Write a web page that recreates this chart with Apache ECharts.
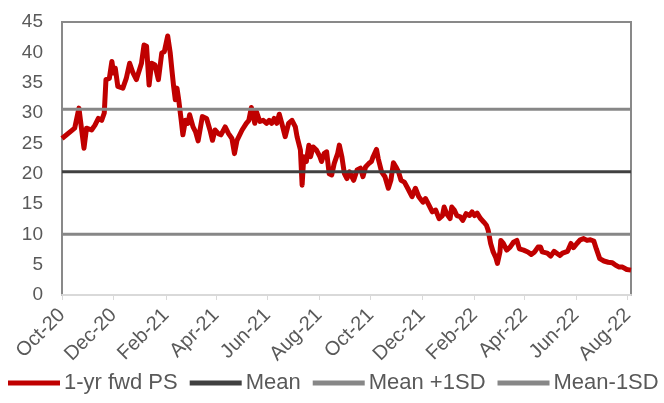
<!DOCTYPE html>
<html>
<head>
	<title>1-yr fwd PS</title>
	<meta charset="utf-8">
	<style type="text/css">
		body {
			margin: 0;
			padding: 0;
			background-color: #fff;
		}
		#main {
			width: 664px;
			height: 403px;
		}
	</style>
	<script src="https://cdn.jsdelivr.net/npm/echarts@6/dist/echarts.min.js"></script>
</head>
<body>
	<div id="main"></div>

	<script type="text/javascript">

	// 1-yr fwd PS
	var psDates = [
		'2020-10-01','2020-10-16','2020-10-21','2020-10-27','2020-10-30','2020-11-05','2020-11-09','2020-11-13','2020-11-17','2020-11-20',
		'2020-11-22','2020-11-26','2020-11-29','2020-12-01','2020-12-03','2020-12-06','2020-12-12','2020-12-16','2020-12-20','2020-12-24',
		'2020-12-28','2021-01-03','2021-01-06','2021-01-09','2021-01-12','2021-01-15','2021-01-19','2021-01-23','2021-01-27','2021-01-30',
		'2021-02-03','2021-02-06','2021-02-08','2021-02-10','2021-02-12','2021-02-14','2021-02-16','2021-02-19','2021-02-21','2021-02-24',
		'2021-02-27','2021-03-01','2021-03-05','2021-03-08','2021-03-11','2021-03-16','2021-03-21','2021-03-25','2021-03-28','2021-03-31',
		'2021-04-04','2021-04-07','2021-04-12','2021-04-16','2021-04-20','2021-04-23','2021-04-26','2021-05-02','2021-05-07','2021-05-10',
		'2021-05-13','2021-05-17','2021-05-19','2021-05-23','2021-05-27','2021-05-31','2021-06-03','2021-06-06','2021-06-09','2021-06-12',
		'2021-06-15','2021-06-18','2021-06-22','2021-06-26','2021-06-30','2021-07-04','2021-07-06','2021-07-10','2021-07-12','2021-07-14',
		'2021-07-17','2021-07-20','2021-07-22','2021-07-25','2021-07-29','2021-08-02','2021-08-04','2021-08-07','2021-08-10','2021-08-13',
		'2021-08-16','2021-08-19','2021-08-23','2021-08-25','2021-08-28','2021-08-31','2021-09-03','2021-09-06','2021-09-11','2021-09-15',
		'2021-09-19','2021-09-22','2021-09-25','2021-09-29','2021-10-02','2021-10-04','2021-10-08','2021-10-10','2021-10-14','2021-10-18',
		'2021-10-22','2021-10-25','2021-10-28','2021-10-31','2021-11-03','2021-11-06','2021-11-10','2021-11-15','2021-11-19','2021-11-23',
		'2021-11-27','2021-12-02','2021-12-05','2021-12-09','2021-12-13','2021-12-17','2021-12-21','2021-12-25','2021-12-27','2021-12-30',
		'2022-01-03','2022-01-05','2022-01-08','2022-01-11','2022-01-15','2022-01-18','2022-01-22','2022-01-26','2022-01-29','2022-02-01',
		'2022-02-04','2022-02-08','2022-02-12','2022-02-15','2022-02-17','2022-02-20','2022-02-23','2022-02-26','2022-02-28','2022-03-03',
		'2022-03-04','2022-03-07','2022-03-11','2022-03-15','2022-03-19','2022-03-23','2022-03-26','2022-03-31','2022-04-05','2022-04-09',
		'2022-04-13','2022-04-17','2022-04-20','2022-04-22','2022-04-28','2022-05-02','2022-05-06','2022-05-10','2022-05-13','2022-05-16',
		'2022-05-22','2022-05-26','2022-05-29','2022-06-02','2022-06-06','2022-06-10','2022-06-14','2022-06-18','2022-06-22','2022-06-25',
		'2022-06-29','2022-07-04','2022-07-09','2022-07-14','2022-07-18','2022-07-22','2022-07-26','2022-07-31','2022-08-05'
	];
	var psValues = [
		25.8, 27.5, 30.8, 24.2, 27.5, 27.2, 28.0, 29.1, 28.8, 30.0,
		35.5, 35.7, 38.5, 36.6, 37.4, 34.4, 34.1, 35.7, 38.2, 36.6,
		35.5, 38.2, 41.2, 41.0, 34.6, 38.2, 37.9, 35.5, 39.9, 40.1,
		42.7, 39.9, 37.1, 34.4, 32.2, 34.1, 32.2, 28.8, 26.4, 28.8,
		28.3, 29.7, 27.7, 26.9, 25.4, 29.4, 29.1, 27.2, 25.5, 27.2,
		26.6, 26.4, 27.7, 26.6, 25.8, 23.3, 25.5, 27.2, 28.3, 28.8,
		30.9, 28.3, 30.2, 28.6, 28.8, 28.3, 28.8, 28.3, 29.1, 28.3,
		29.8, 28.3, 26.1, 28.3, 28.8, 27.7, 26.1, 23.9, 18.1, 22.8,
		22.0, 24.7, 22.8, 24.4, 23.9, 22.8, 22.0, 23.3, 23.6, 20.0,
		19.8, 21.7, 23.3, 24.7, 22.8, 20.0, 19.2, 20.3, 18.9, 20.6,
		20.9, 19.5, 21.1, 21.7, 22.0, 22.8, 24.0, 22.5, 20.3, 19.5,
		17.6, 18.9, 21.8, 21.1, 20.3, 18.9, 18.6, 17.3, 16.2, 17.6,
		16.2, 15.3, 15.9, 14.8, 13.7, 14.0, 12.6, 13.1, 14.5, 13.4,
		12.6, 14.5, 14.0, 13.1, 12.9, 12.3, 13.4, 13.1, 13.7, 13.1,
		13.5, 12.6, 12.0, 11.5, 10.7, 8.5, 7.1, 6.2, 5.2, 7.1,
		9.0, 8.5, 7.4, 7.9, 8.7, 9.0, 7.6, 7.4, 7.1, 6.7,
		7.1, 7.9, 7.9, 7.1, 6.9, 6.4, 7.2, 6.8, 6.5, 6.9,
		7.2, 8.5, 7.8, 8.5, 9.1, 9.3, 9.0, 9.1, 8.9, 7.6,
		6.0, 5.6, 5.4, 5.3, 4.9, 4.6, 4.6, 4.2, 4.1
	];

	// horizontal bands
	var meanValue = 20.3;
	var plusSdValue = 30.6;
	var minusSdValue = 10.0;

	var startDate = '2020-10-01';
	var endDate = '2022-08-05';

	var tickDates = ['2020-10-01','2020-12-01','2021-02-01','2021-04-01','2021-06-01','2021-08-01',
		'2021-10-01','2021-12-01','2022-02-01','2022-04-01','2022-06-01','2022-08-01'];
	var tickLabels = ['Oct-20','Dec-20','Feb-21','Apr-21','Jun-21','Aug-21',
		'Oct-21','Dec-21','Feb-22','Apr-22','Jun-22','Aug-22'];

	var seriesNames = ['1-yr fwd PS', 'Mean', 'Mean +1SD', 'Mean-1SD'];

	// every calendar day as a category
	var days = [];
	var d = new Date(startDate + 'T00:00:00Z');
	var last = new Date(endDate + 'T00:00:00Z');
	while (d <= last) {
		days.push(d.toISOString().slice(0, 10));
		d.setUTCDate(d.getUTCDate() + 1);
	}

	var tickMap = {};
	for (var i = 0; i < tickDates.length; i++) {
		tickMap[tickDates[i]] = tickLabels[i];
	}
	function isTick(index, value) {
		return tickMap.hasOwnProperty(value);
	}

	var psData = [];
	for (var j = 0; j < psDates.length; j++) {
		psData.push([psDates[j], psValues[j]]);
	}
	function flat(v) {
		return [[startDate, v], [endDate, v]];
	}

	var font = 'Liberation Sans, Arial, sans-serif';

	var option = {
		animation: false,
		grid: {
			left: 62,
			right: 33,
			top: 22,
			bottom: 108,
			show: true,
			borderColor: '#898989',
			borderWidth: 2
		},
		legend: {
			data: seriesNames,
			left: 8,
			top: 372,
			width: 656,
			padding: 0,
			icon: 'rect',
			itemWidth: 52,
			itemHeight: 5,
			itemGap: 12,
			textStyle: {
				color: '#595959',
				fontSize: 22,
				fontFamily: font,
				padding: [0, 0, 0, -1]
			}
		},
		xAxis: {
			type: 'category',
			data: days,
			boundaryGap: false,
			axisLine: { lineStyle: { color: '#d9d9d9', width: 2 } },
			axisTick: {
				interval: isTick,
				length: 5,
				lineStyle: { color: '#d9d9d9', width: 1 }
			},
			axisLabel: {
				interval: isTick,
				rotate: 45,
				margin: 17,
				color: '#595959',
				fontSize: 20,
				fontFamily: font,
				formatter: function (value) {
					return tickMap[value] || '';
				}
			},
			splitLine: { show: false }
		},
		yAxis: {
			type: 'value',
			min: 0,
			max: 45,
			interval: 5,
			axisLine: { show: true, lineStyle: { color: '#898989', width: 2 } },
			axisTick: { show: false },
			splitLine: { show: false },
			axisLabel: {
				margin: 19,
				color: '#595959',
				fontSize: 19,
				fontFamily: font
			}
		},
		series: [
			{
				name: seriesNames[0],
				type: 'line',
				data: psData,
				showSymbol: false,
				symbol: 'none',
				lineStyle: { color: '#c00000', width: 5, join: 'round' },
				itemStyle: { color: '#c00000' }
			},
			{
				name: seriesNames[1],
				type: 'line',
				data: flat(meanValue),
				symbol: 'none',
				lineStyle: { color: '#404040', width: 3 },
				itemStyle: { color: '#404040' }
			},
			{
				name: seriesNames[2],
				type: 'line',
				data: flat(plusSdValue),
				symbol: 'none',
				lineStyle: { color: '#878787', width: 3 },
				itemStyle: { color: '#878787' }
			},
			{
				name: seriesNames[3],
				type: 'line',
				data: flat(minusSdValue),
				symbol: 'none',
				lineStyle: { color: '#878787', width: 3 },
				itemStyle: { color: '#878787' }
			}
		]
	};

	var myChart = echarts.init(document.getElementById('main'));
	myChart.setOption(option);

	</script>
</body>
</html>
